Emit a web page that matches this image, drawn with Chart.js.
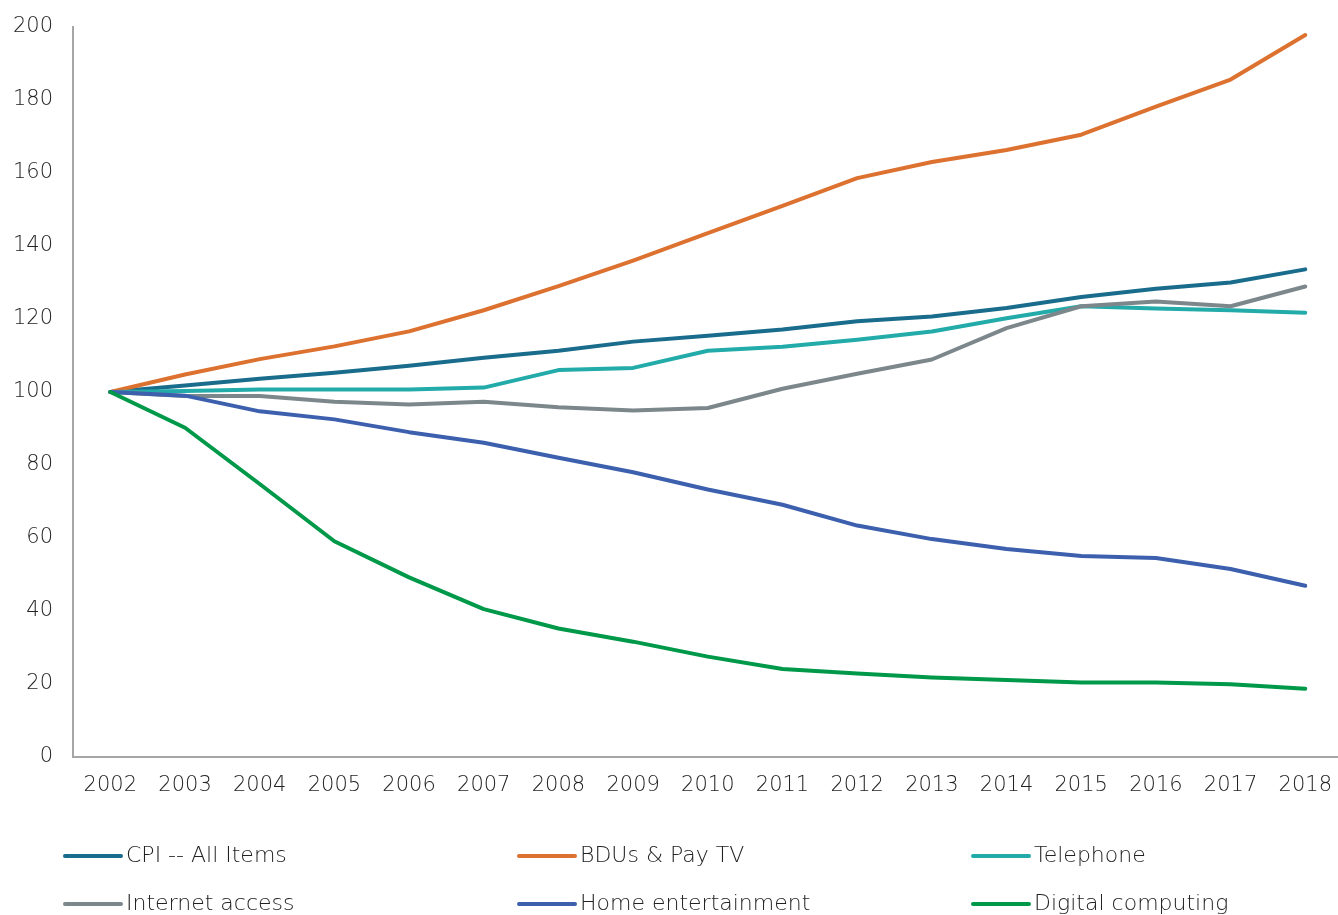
<!DOCTYPE html>
<html>
<head>
<meta charset="utf-8">
<title>Price indices 2002-2018</title>
<script src="https://cdn.jsdelivr.net/npm/chart.js@4.4.1/dist/chart.umd.min.js"></script>
<style>
  html, body { margin: 0; padding: 0; background: #fff; overflow: hidden; }
  #wrap { position: relative; width: 1348px; height: 915px; }
</style>
</head>
<body>
<div id="wrap"><canvas id="priceChart"></canvas></div>
<script>
// categories
var years = ['2002', '2003', '2004', '2005', '2006', '2007', '2008', '2009', '2010',
  '2011', '2012', '2013', '2014', '2015', '2016', '2017', '2018'];

// series values (index, 2002 = 100)
var cpiAll = [100, 101.8, 103.6, 105.3, 107.2, 109.4, 111.3, 113.8, 115.4, 117.1, 119.4, 120.7, 123.0, 126.0, 128.3, 130.0, 133.6];
var bduPayTv = [100, 104.8, 109.0, 112.5, 116.6, 122.4, 129.0, 136.0, 143.5, 151.0, 158.6, 163.0, 166.3, 170.5, 178.2, 185.6, 197.8];
var telephone = [100, 100.3, 100.7, 100.7, 100.7, 101.2, 106.0, 106.6, 111.3, 112.4, 114.3, 116.6, 120.2, 123.5, 122.9, 122.4, 121.7];
var internetAccess = [100, 98.9, 98.9, 97.3, 96.6, 97.3, 95.8, 94.9, 95.6, 100.9, 105.0, 108.9, 117.5, 123.5, 124.8, 123.5, 128.9];
var homeEntertainment = [100, 99.0, 94.7, 92.5, 89.0, 86.1, 82.0, 78.0, 73.3, 69.1, 63.4, 59.7, 57.0, 55.1, 54.5, 51.5, 46.9];
var digitalComputing = [100, 90.2, 74.8, 59.1, 49.2, 40.5, 35.2, 31.6, 27.5, 24.1, 22.9, 21.8, 21.1, 20.4, 20.4, 19.9, 18.7];

var seriesNames = ['CPI -- All Items', 'BDUs & Pay TV', 'Telephone',
  'Internet access', 'Home entertainment', 'Digital computing'];
var seriesValues = [cpiAll, bduPayTv, telephone, internetAccess, homeEntertainment, digitalComputing];
var seriesColors = ['#196c8b', '#dc7130', '#23abaa', '#7c878c', '#3d60ae', '#00994a'];

// y ticks
var yMin = 0, yMax = 200, yStep = 20;

var FONT = "'DejaVu Sans', 'Open Sans', sans-serif";
var TEXT_COLOR = '#222222';
var AXIS_COLOR = '#a6a6a6';

var datasets = seriesValues.map(function (vals, i) {
  return {
    label: seriesNames[i],
    data: vals,
    borderColor: seriesColors[i],
    backgroundColor: seriesColors[i],
    borderWidth: 4,
    borderCapStyle: 'round',
    borderJoinStyle: 'round',
    pointRadius: 0,
    tension: 0,
    fill: false,
    order: seriesValues.length - i // later series on top, like the original
  };
});

// legend in three columns under the plot
var gridLegend = {
  id: 'gridLegend',
  afterDraw: function (chart) {
    var ctx = chart.ctx;
    var colX = [63, 517, 971], rowY = [856, 904];
    ctx.save();
    ctx.font = '200 22px ' + FONT;
    ctx.textBaseline = 'middle';
    ctx.textAlign = 'left';
    for (var i = 0; i < seriesNames.length; i++) {
      var x = colX[i % 3], y = rowY[Math.floor(i / 3)];
      ctx.strokeStyle = seriesColors[i];
      ctx.lineWidth = 4;
      ctx.lineCap = 'round';
      ctx.beginPath();
      ctx.moveTo(x + 2, y);
      ctx.lineTo(x + 58, y);
      ctx.stroke();
      ctx.fillStyle = TEXT_COLOR;
      ctx.fillText(seriesNames[i], x + 63, y);
    }
    ctx.restore();
  }
};

new Chart(document.getElementById('priceChart'), {
  type: 'line',
  data: { labels: years, datasets: datasets },
  options: {
    responsive: true,
    maintainAspectRatio: false,
    animation: false,
    layout: { padding: { top: 27, right: 0, bottom: 0, left: 0 } },
    plugins: {
      legend: { display: false },
      tooltip: { enabled: false }
    },
    scales: {
      x: {
        offset: true,
        grid: { display: false, drawTicks: false },
        border: { display: true, color: AXIS_COLOR, width: 2 },
        ticks: {
          color: TEXT_COLOR,
          padding: 16,
          maxRotation: 0,
          autoSkip: false,
          font: { family: FONT, size: 21, weight: '200' }
        },
        afterFit: function (scale) { scale.height = 158; }
      },
      y: {
        min: yMin,
        max: yMax,
        grid: { display: false, drawTicks: false },
        border: { display: true, color: AXIS_COLOR, width: 2 },
        ticks: {
          stepSize: yStep,
          color: TEXT_COLOR,
          padding: 20,
          font: { family: FONT, size: 21, weight: '200' }
        },
        afterFit: function (scale) {
          scale.width = 73;
          scale.paddingTop = 0;
          scale.paddingBottom = 0;
        }
      }
    }
  },
  plugins: [gridLegend]
});
</script>
</body>
</html>
